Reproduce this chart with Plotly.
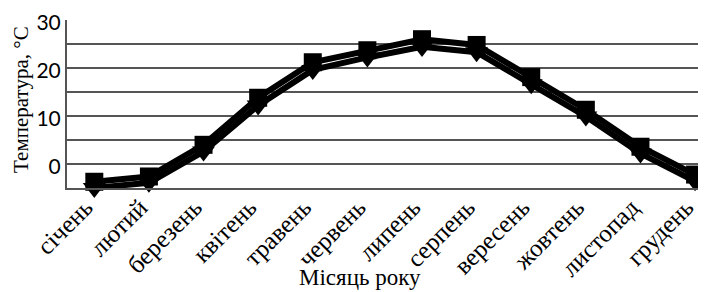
import plotly.graph_objects as go

months = ["січень", "лютий", "березень", "квітень", "травень", "червень",
          "липень", "серпень", "вересень", "жовтень", "листопад", "грудень"]
series_sq = [-3.7, -2.6, 4.0, 13.8, 21.2, 23.7, 26.0, 24.8, 18.1, 11.3, 3.6, -2.2]
series_tri = [-5.0, -3.9, 2.6, 12.2, 19.6, 22.2, 24.4, 23.3, 16.6, 9.9, 2.2, -3.6]
y_ticks = [-5, 0, 5, 10, 15, 20, 25, 30]
y_ticktext = ["", "0", "", "10", "", "20", "", "30"]
month_labels = [m + "\u2002" for m in months]

fig = go.Figure()
fig.add_trace(go.Scatter(x=months, y=series_tri, mode="lines+markers",
                         line=dict(color="black", width=6),
                         marker=dict(symbol="triangle-down", size=20, color="black"),
                         showlegend=False, cliponaxis=False))
fig.add_trace(go.Scatter(x=months, y=series_sq, mode="lines+markers",
                         line=dict(color="black", width=6),
                         marker=dict(symbol="square", size=18, color="black"),
                         showlegend=False, cliponaxis=False))

# page has an 8px body margin, so the figure is placed at (8, 8)
fig.update_layout(
    width=698, height=284,
    margin=dict(l=59, r=0, t=12, b=104),
    paper_bgcolor="white", plot_bgcolor="white",
    xaxis=dict(type="category", range=[-0.5, 11.2], tickangle=-45,
               tickvals=months, ticktext=month_labels,
               tickfont=dict(family="Liberation Serif", size=25, color="black"),
               showgrid=False, showline=True, linecolor="#555", linewidth=2,
               ticks="", automargin=False, ticklabelstandoff=-16,
               ticklabeloverflow="allow"),
    yaxis=dict(range=[-5, 30], tickvals=y_ticks, ticktext=y_ticktext,
               tickfont=dict(family="Lato", size=21, color="black"),
               showgrid=True, gridcolor="#555", gridwidth=2,
               showline=True, linecolor="#555", linewidth=2,
               zeroline=False, ticks="", automargin=False,
               ticklabeloverflow="allow", ticklabelshift=3),
    annotations=[
        dict(text="Місяць року", xref="paper", yref="paper", x=0.458, y=0,
             yshift=-104, xanchor="center", yanchor="bottom", showarrow=False,
             font=dict(family="Liberation Serif", size=23, color="black")),
        dict(text="Температура, °С", xref="paper", yref="paper", x=0, y=0.53,
             xshift=-32, xanchor="right", yanchor="middle", showarrow=False, textangle=-90,
             font=dict(family="Liberation Serif", size=21, color="black")),
    ],
)
fig.write_html("out.html")
